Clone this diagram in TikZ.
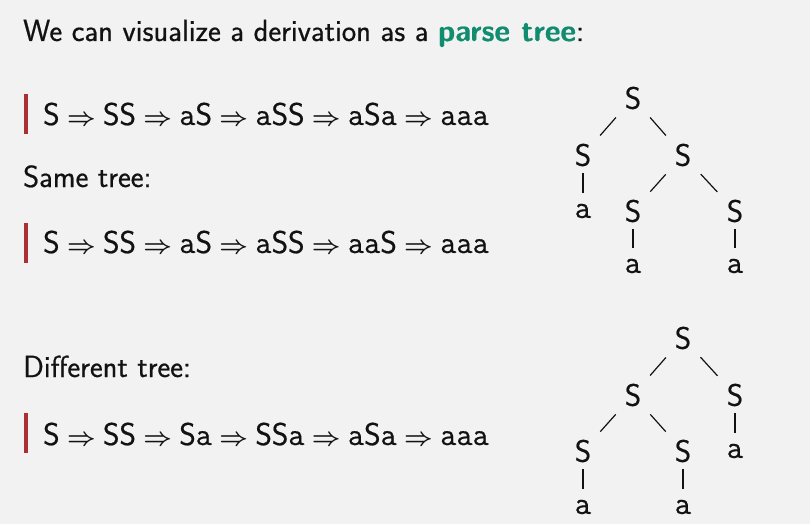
\documentclass[tikz,border=0pt]{standalone}
\usepackage{bm}
\usepackage{fontspec}
\setsansfont{Latin Modern Sans}[FakeBold=0.6]
\setmonofont{Latin Modern Mono}[FakeBold=0.6]
\definecolor{pagebg}{RGB}{242,242,242}
\definecolor{inkcol}{RGB}{18,18,18}
\definecolor{alertcol}{RGB}{18,140,110}
\definecolor{barcol}{RGB}{170,48,52}
\newcommand{\tm}{\texttt{a}}
\newcommand{\ar}{\hspace{7.4pt}$\bm{\Rightarrow}$\hspace{7.4pt}}
\begin{document}
\begin{tikzpicture}[x=1pt,y=-1pt,
  every node/.style={inner sep=0pt,text=inkcol,font=\sffamily\fontsize{30.5}{36}\selectfont},
  line/.style={anchor=base west},
  deriv/.style={anchor=base west,font=\sffamily\fontsize{31.5}{36}\selectfont},
  sym/.style={anchor=center,font=\sffamily\fontsize{31}{36}\selectfont},
  leaf/.style={anchor=center,font=\ttfamily\fontsize{32}{36}\selectfont},
  branch/.style={draw=inkcol,line width=1.2pt,shorten <=26pt,shorten >=26pt},
  stem/.style={draw=inkcol,line width=1.2pt,shorten <=18pt,shorten >=18pt},
  marker/.style={fill=barcol}]
\fill[pagebg] (0,0) rectangle (810,524);
\useasboundingbox (0,0) rectangle (810,524);

% headings
\node[line] (title) at (23,41) {We can visualize a derivation as a \textcolor{alertcol}{\bfseries parse tree}:};
\node[line] (same) at (23,187) {Same tree:};
\node[line] (diff) at (23,377) {Different tree:};

% derivations with side markers
\fill[marker] (24,94) rectangle (28,134);
\node[deriv] (d1) at (43,125) {S\ar SS\ar \tm S\ar \tm SS\ar \tm S\tm\ar \tm\tm\tm};
\fill[marker] (24,223) rectangle (28,263);
\node[deriv] (d2) at (43,253) {S\ar SS\ar \tm S\ar \tm SS\ar \tm\tm S\ar \tm\tm\tm};
\fill[marker] (24,413) rectangle (28,453);
\node[deriv] (d3) at (43,445) {S\ar SS\ar S\tm\ar SS\tm\ar \tm S\tm\ar \tm\tm\tm};

% first tree
\node[sym] (a0) at (633,98) {S};
\node[sym] (a1) at (583,155) {S};
\node[sym] (a2) at (683,155) {S};
\node[leaf] (a1x) at (583,211) {a};
\node[sym] (a21) at (633,211) {S};
\node[sym] (a22) at (735,211) {S};
\node[leaf] (a21x) at (633,266) {a};
\node[leaf] (a22x) at (735,266) {a};
\draw[branch] (a0.center) -- (a1.center);
\draw[branch] (a0.center) -- (a2.center);
\draw[stem] (a1.center) -- (a1x.center);
\draw[branch] (a2.center) -- (a21.center);
\draw[branch] (a2.center) -- (a22.center);
\draw[stem] (a21.center) -- (a21x.center);
\draw[stem] (a22.center) -- (a22x.center);

% second tree
\node[sym] (b0) at (683,338) {S};
\node[sym] (b1) at (633,395) {S};
\node[sym] (b2) at (735,395) {S};
\node[leaf] (b2x) at (735,451) {a};
\node[sym] (b11) at (583,451) {S};
\node[sym] (b12) at (683,451) {S};
\node[leaf] (b11x) at (583,507) {a};
\node[leaf] (b12x) at (683,507) {a};
\draw[branch] (b0.center) -- (b1.center);
\draw[branch] (b0.center) -- (b2.center);
\draw[stem] (b2.center) -- (b2x.center);
\draw[branch] (b1.center) -- (b11.center);
\draw[branch] (b1.center) -- (b12.center);
\draw[stem] (b11.center) -- (b11x.center);
\draw[stem] (b12.center) -- (b12x.center);
\end{tikzpicture}
\end{document}
